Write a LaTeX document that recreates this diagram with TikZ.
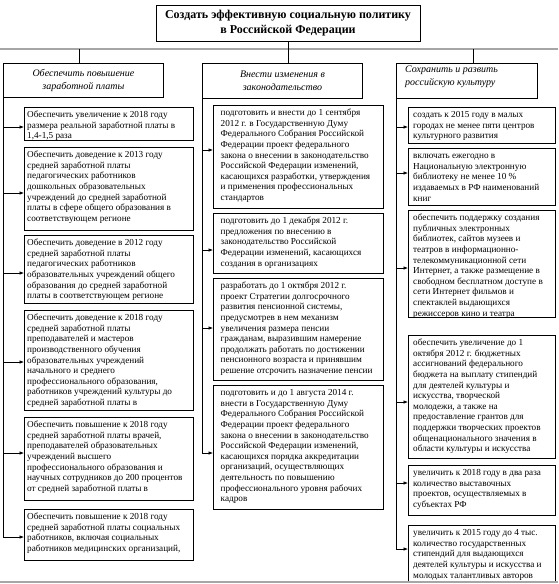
\documentclass[tikz,border=0pt]{standalone}
\usepackage{fontspec}
\setmainfont{Liberation Serif}
\usetikzlibrary{arrows.meta}
\tikzset{
  bx/.style={draw, line width=0.9pt, inner sep=0pt, anchor=north west},
  tx/.style={anchor=north west, align=left, inner sep=0pt, font=\fontsize{9.2}{10.6}\selectfont},
  hdf/.style={font=\itshape\fontsize{10}{12.5}\selectfont},
  hdt/.style={anchor=north west, align=left, inner sep=0pt, font=\itshape\fontsize{10}{12.5}\selectfont},
  arr/.style={line width=0.7pt, -{Latex[length=4.5pt,width=3.6pt]}},
  ln/.style={line width=0.7pt},
  frameline/.style={gray!70, line width=1.4pt}
}
% name, pad, x1, y1, x2, y2, text
\newcommand\tbox[7]{%
  \node[bx, minimum width={#5pt-#3pt}, minimum height={#6pt-#4pt}] (#1) at (#3,#4) {};
  \node[tx] (#1t) at ([xshift=#2pt,yshift=-3.5pt]#1.north west) {\rule{0pt}{7pt}#7};}
\newcommand\arw[3]{\draw[arr] (#1.south west |- 0,#3) -- (#2.west |- 0,#3);}
\begin{document}
\begin{tikzpicture}[x=1pt,y=-1pt]
\useasboundingbox (0,0) rectangle (558,584);
\draw[frameline] (0,49) -- (558,49);
\node[bx, anchor=center, minimum width=264pt, minimum height=36pt, align=center,
  font=\bfseries\fontsize{12}{14.8}\selectfont] (T) at (288,23)
  {Создать эффективную социальную политику\\в Российской Федерации};
\node[bx, minimum width=160pt, minimum height=34pt, hdf, align=center] (HL) at (3,63)
  {Обеспечить повышение\\заработной платы};
\node[bx, minimum width=160pt, minimum height=35pt, hdf, align=center] (HM) at (202,63)
  {Внести изменения в\\законодательство};
\node[bx, minimum width=141pt, minimum height=35pt] (HR) at (396,63) {};
\node[hdt] (HRt) at ([xshift=9pt,yshift=-3pt]HR.north west) {Сохранить и развить\\российскую культуру};
\draw[ln] (T.south) -- (T.south |- HM.north);
\coordinate (bL) at (79,49);
\coordinate (bR) at (473,49);
\draw[ln] (bL) -- (bL |- HL.north);
\draw[ln] (bR) -- (bR |- HR.north);
\begin{scope}
\clip (-2,0) rectangle (560,581);
% left column
\tbox{L1}{3}{24}{107}{193}{140}{Обеспечить увеличение к 2018 году\\размера реальной заработной платы в\\1,4-1,5 раза}
\tbox{L2}{3}{24}{147}{193}{230}{Обеспечить доведение к 2013 году\\средней заработной платы\\педагогических работников\\дошкольных образовательных\\учреждений до средней заработной\\платы в сфере общего образования в\\соответствующем регионе}
\tbox{L3}{3}{24}{235}{193}{303}{Обеспечить доведение в 2012 году\\средней заработной платы\\педагогических работников\\образовательных учреждений общего\\образования до средней заработной\\платы в соответствующем регионе}
\tbox{L4}{3}{24}{310}{193}{410}{Обеспечить доведение к 2018 году\\средней заработной платы\\преподавателей и мастеров\\производственного обучения\\образовательных учреждений\\начального и среднего\\профессионального образования,\\работников учреждений культуры до\\средней заработной платы в}
\tbox{L5}{3}{24}{417}{193}{500}{Обеспечить повышение к 2018 году\\средней заработной платы врачей,\\преподавателей образовательных\\учреждений высшего\\профессионального образования и\\научных сотрудников до 200 процентов\\от средней заработной платы в}
\tbox{L6}{3}{24}{509}{193}{560}{Обеспечить повышение к 2018 году\\средней заработной платы социальных\\работников, включая социальных\\работников медицинских организаций,}
\arw{HL}{L1}{127}
\arw{HL}{L2}{193}
\arw{HL}{L3}{273}
\arw{HL}{L4}{362}
\arw{HL}{L5}{453}
\draw[arr] (HL.south west) |- (L6.west |- 0,537);
% middle column
\tbox{M1}{7.5}{213}{105}{383}{208}{подготовить и внести до 1 сентября\\2012 г. в Государственную Думу\\Федерального Собрания Российской\\Федерации проект федерального\\закона о внесении в законодательство\\Российской Федерации изменений,\\касающихся разработки, утверждения\\и применения профессиональных\\стандартов}
\tbox{M2}{7.5}{213}{213}{383}{273}{подготовить до 1 декабря 2012 г.\\предложения по внесению в\\законодательство Российской\\Федерации изменений, касающихся\\создания в организациях}
\tbox{M3}{7.5}{213}{278}{383}{380}{разработать до 1 октября 2012 г.\\проект Стратегии долгосрочного\\развития пенсионной системы,\\предусмотрев в нем механизм\\увеличения размера пенсии\\гражданам, выразившим намерение\\продолжать работать по достижении\\пенсионного возраста и принявшим\\решение отсрочить назначение пенсии}
\tbox{M4}{7.5}{213}{385}{383}{509}{подготовить и до 1 августа 2014 г.\\внести в Государственную Думу\\Федерального Собрания Российской\\Федерации проект федерального\\закона о внесении в законодательство\\Российской Федерации изменений,\\касающихся порядка аккредитации\\организаций, осуществляющих\\деятельность по повышению\\профессионального уровня рабочих\\кадров}
\arw{HM}{M1}{150}
\arw{HM}{M2}{250}
\arw{HM}{M3}{328}
\draw[arr] (HM.south west) |- (M4.west |- 0,453);
% right column
\tbox{R1}{5}{408}{107}{555}{143}{создать к 2015 году в малых\\городах не менее пяти центров\\культурного развития}
\tbox{R2}{5}{408}{148}{555}{205}{включать ежегодно в\\Национальную электронную\\библиотеку не менее 10 \%\\издаваемых в РФ наименований\\книг}
\tbox{R3}{5}{408}{210}{555}{317}{обеспечить поддержку создания\\публичных электронных\\библиотек, сайтов музеев и\\театров в информационно-\\телекоммуникационной сети\\Интернет, а также размещение в\\свободном бесплатном доступе в\\сети Интернет фильмов и\\спектаклей выдающихся\\режиссеров кино и театра}
\tbox{R4}{5}{408}{335}{555}{458}{обеспечить увеличение до 1\\октября 2012 г. бюджетных\\ассигнований федерального\\бюджета на выплату стипендий\\для деятелей культуры и\\искусства, творческой\\молодежи, а также на\\предоставление грантов для\\поддержки творческих проектов\\общенационального значения в\\области культуры и искусства}
\tbox{R5}{5}{408}{465}{555}{515}{увеличить к 2018 году в два раза\\количество выставочных\\проектов, осуществляемых в\\субъектах РФ}
\tbox{R6}{5}{408}{525}{555}{600}{увеличить к 2015 году до 4 тыс.\\количество государственных\\стипендий для выдающихся\\деятелей культуры и искусства и\\молодых талантливых авторов}
\arw{HR}{R1}{127}
\arw{HR}{R2}{173}
\arw{HR}{R3}{268}
\arw{HR}{R4}{402}
\arw{HR}{R5}{483}
\draw[arr] (HR.south west) |- (R6.west |- 0,549);
\end{scope}
\draw[frameline] (0,582) -- (558,582);
\end{tikzpicture}
\end{document}
